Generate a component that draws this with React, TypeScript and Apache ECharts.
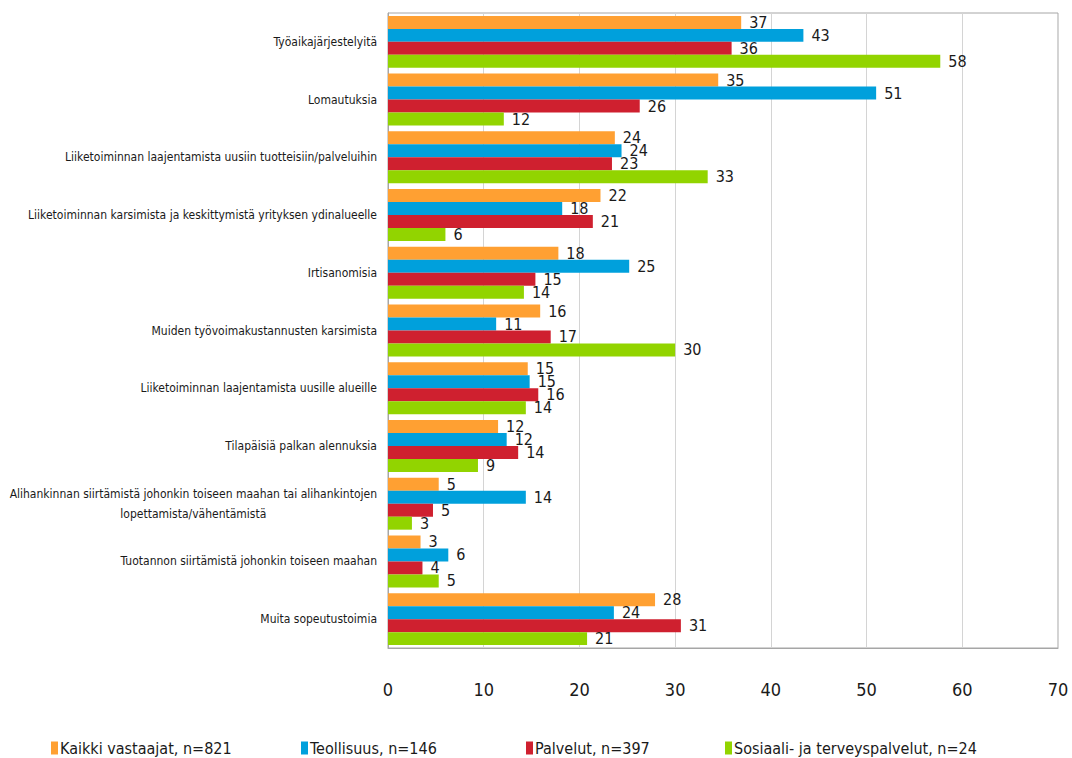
import React, { useEffect, useRef } from "react";
import * as echarts from "echarts";

const categories = [
  "Työaikajärjestelyitä",
  "Lomautuksia",
  "Liiketoiminnan laajentamista uusiin tuotteisiin/palveluihin",
  "Liiketoiminnan karsimista ja keskittymistä yrityksen ydinalueelle",
  "Irtisanomisia",
  "Muiden työvoimakustannusten karsimista",
  "Liiketoiminnan laajentamista uusille alueille",
  "Tilapäisiä palkan alennuksia",
  "Alihankinnan siirtämistä johonkin toiseen maahan tai alihankintojen\nlopettamista/vähentämistä",
  "Tuotannon siirtämistä johonkin toiseen maahan",
  "Muita sopeutustoimia",
];

const seriesNames = [
  "Kaikki vastaajat, n=821",
  "Teollisuus, n=146",
  "Palvelut, n=397",
  "Sosiaali- ja terveyspalvelut, n=24",
];

const kaikki = [36.9, 34.5, 23.7, 22.2, 17.8, 15.9, 14.6, 11.5, 5.3, 3.4, 27.9];
const teollisuus = [43.4, 51.0, 24.4, 18.2, 25.2, 11.3, 14.8, 12.4, 14.4, 6.3, 23.6];
const palvelut = [35.9, 26.3, 23.4, 21.4, 15.4, 17.0, 15.7, 13.6, 4.7, 3.6, 30.6];
const sosiaali = [57.7, 12.1, 33.4, 6.0, 14.2, 30.0, 14.4, 9.4, 2.5, 5.3, 20.8];

const colors = ["#FFA032", "#00A0DC", "#CF202F", "#92D400"];
const legendLeft = [46, 296, 521, 720];

const FONT = "'Liberation Sans Narrow', 'DejaVu Sans Condensed', sans-serif";

export default function App() {
  const ref = useRef<HTMLDivElement>(null);

  useEffect(() => {
    if (!ref.current) return;
    const chart = echarts.init(ref.current, null, { renderer: "svg" });
    const data = [kaikki, teollisuus, palvelut, sosiaali];

    chart.setOption({
      animation: false,
      backgroundColor: "#ffffff",
      grid: {
        left: 388,
        right: 14,
        top: 13,
        bottom: 110,
        show: true,
        borderColor: "#a6a6a6",
        borderWidth: 1,
        containLabel: false,
        outerBoundsMode: "none",
      },
      legend: seriesNames.map((n, i) => ({
        data: [n],
        left: legendLeft[i],
        top: 735,
        icon: "rect",
        itemWidth: 7,
        itemHeight: 13,
        itemGap: 0,
        textStyle: { fontFamily: FONT, fontSize: 16, color: "#1a1a1a", padding: [0, 0, 0, -3] },
      })),
      xAxis: {
        type: "value",
        min: 0,
        max: 70,
        interval: 10,
        axisLine: { show: true, lineStyle: { color: "#a6a6a6" } },
        axisTick: { show: false },
        splitLine: { show: true, lineStyle: { color: "#d4d4d4", width: 1 } },
        axisLabel: { fontFamily: FONT, fontSize: 18, color: "#1a1a1a", margin: 32 },
      },
      yAxis: {
        type: "category",
        data: categories,
        inverse: true,
        axisLine: { show: true, lineStyle: { color: "#a6a6a6" } },
        axisTick: { show: false },
        axisLabel: {
          fontFamily: FONT,
          fontSize: 12,
          color: "#1a1a1a",
          margin: 11,
          align: "right",
          formatter: (v: string) => (v.indexOf("\n") >= 0 ? "{c|" + v + "}" : v),
          rich: {
            c: { align: "center", fontFamily: FONT, fontSize: 12, color: "#1a1a1a", lineHeight: 20 },
          },
        },
      },
      series: seriesNames.map((n, i) => ({
        name: n,
        type: "bar",
        data: data[i],
        barGap: "0%",
        barCategoryGap: "10%",
        itemStyle: { color: colors[i] },
        label: {
          show: true,
          position: "right",
          distance: 8,
          fontFamily: FONT,
          fontSize: 16,
          color: "#1a1a1a",
          formatter: (p: any) => String(Math.round(p.value)),
        },
      })),
    });

    return () => chart.dispose();
  }, []);

  return (
    <div
      ref={ref}
      style={{ position: "absolute", left: 0, top: 0, width: 1072, height: 758 }}
    />
  );
}
